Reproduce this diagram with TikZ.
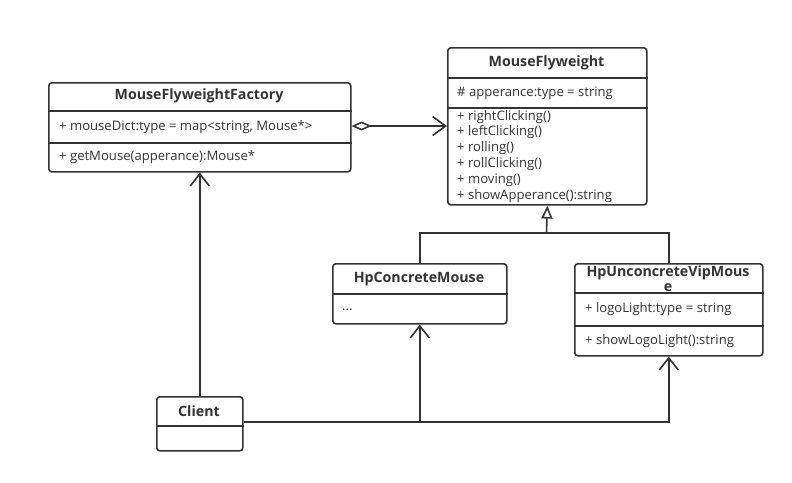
\documentclass[tikz,border=0pt]{standalone}
\usepackage{fontspec}
\setmainfont{Open Sans}
\usetikzlibrary{arrows.meta}
\definecolor{ink}{HTML}{333333}
\tikzset{
  cls/.style={draw=ink, line width=1.6pt, rounded corners=3pt, anchor=north west, inner sep=0pt, fill=white},
  ttl/.style={font=\fontsize{14.2}{16}\selectfont\bfseries, text=ink, inner sep=0pt},
  txt/.style={font=\fontsize{13.1}{15}\selectfont, text=ink, inner sep=0pt, anchor=west},
  dv/.style={draw=ink, line width=1.6pt},
  con/.style={draw=ink, line width=1.6pt},
  opena/.style={-{Straight Barb[length=12pt,width=19pt,line width=1.6pt]}},
}
\begin{document}
\begin{tikzpicture}[x=1pt,y=-1pt]
\useasboundingbox (0,0) rectangle (792,482);
% Factory
\node[cls, minimum width=302pt, minimum height=89pt] (fac) at (48,82) {};
\node[ttl] (facT) at (199,96) {MouseFlyweightFactory};
\draw[dv] (fac.west |- 0,111) -- (fac.east |- 0,111);
\node[txt] (facA) at (59,127) {+ mouseDict:type = map<string, Mouse*>};
\draw[dv] (fac.west |- 0,143) -- (fac.east |- 0,143);
\node[txt] (facM) at (59,157) {+ getMouse(apperance):Mouse*};
% Flyweight
\node[cls, minimum width=199pt, minimum height=157pt] (fw) at (447,47) {};
\node[ttl] (fwT) at (546.5,63) {MouseFlyweight};
\draw[dv] (fw.west |- 0,78) -- (fw.east |- 0,78);
\node[txt] (fwA) at (457,93) {\# apperance:type = string};
\draw[dv] (fw.west |- 0,108) -- (fw.east |- 0,108);
\node[txt] (fw1) at (457,117) {+ rightClicking()};
\node[txt] (fw2) at (457,132.5) {+ leftClicking()};
\node[txt] (fw3) at (457,148) {+ rolling()};
\node[txt] (fw4) at (457,164) {+ rollClicking()};
\node[txt] (fw5) at (457,180) {+ moving()};
\node[txt] (fw6) at (457,196) {+ showApperance():string};
% HpConcreteMouse
\node[cls, minimum width=174pt, minimum height=60pt] (hc) at (332,263) {};
\node[ttl] (hcT) at (419,279) {HpConcreteMouse};
\draw[dv] (hc.west |- 0,294) -- (hc.east |- 0,294);
\node[txt] (hcA) at (342,310) {...};
% HpUnconcreteVipMouse
\node[cls, minimum width=188pt, minimum height=92pt] (hu) at (574,263) {};
\node[ttl, align=center, font=\fontsize{14.2}{15.5}\selectfont\bfseries] (huT) at (668,278.5) {HpUnconcreteVipMous\\e};
\draw[dv] (hu.west |- 0,293) -- (hu.east |- 0,293);
\node[txt] (huA) at (585,309) {+ logoLight:type = string};
\draw[dv] (hu.west |- 0,326) -- (hu.east |- 0,326);
\node[txt] (huM) at (585,341) {+ showLogoLight():string};
% Client
\node[cls, minimum width=86pt, minimum height=54pt] (cl) at (156,396) {};
\node[ttl] (clT) at (199,411) {Client};
\draw[dv] (cl.west |- 0,426) -- (cl.east |- 0,426);
% connectors
\draw[con, {Diamond[open,length=20pt,width=9pt,line width=1.6pt]}-{Straight Barb[length=13pt,width=19pt,line width=1.6pt]}] (fac.east |- 0,126) -- (fw.west |- 0,126);
\coordinate (gj) at (546.5,233);
\draw[con, -{Triangle[open,length=13pt,width=11pt,line width=1.6pt]}] (gj) -- (fw.south);
\draw[con] (hc.north) |- (hu.north |- gj) -- (hu.north);
\draw[con, opena] (cl.north) -- (fac.south);
\draw[con, opena] (cl.east |- 0,422) -| (hu.south);
\draw[con, opena] (hc.south |- 0,422) -- (hc.south);
\end{tikzpicture}
\end{document}
